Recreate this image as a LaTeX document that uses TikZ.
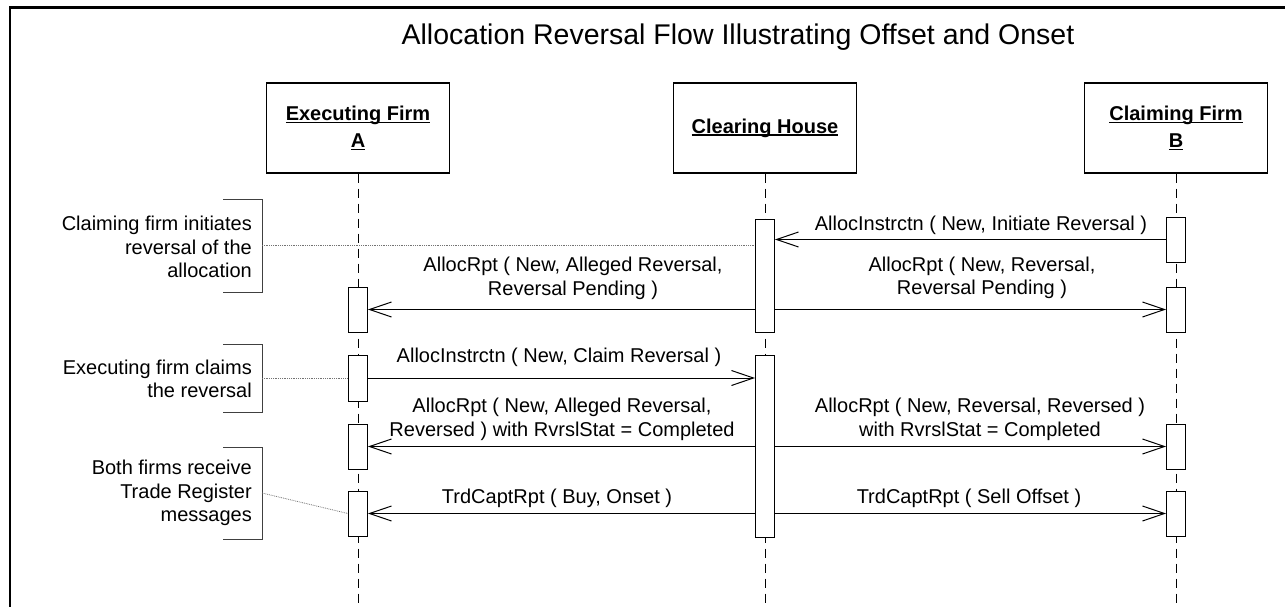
\documentclass[tikz,border=0pt]{standalone}
\usepackage{fontspec}
\setmainfont{Liberation Sans}
\usetikzlibrary{arrows.meta,calc}
\newcommand\ulin[1]{\setbox0\hbox{#1}\rlap{\rule[-2.6pt]{\wd0}{1.3pt}}\box0}
\begin{document}
\begin{tikzpicture}[x=1pt,y=-1pt,
  every node/.style={font=\fontsize{20}{23.5}\selectfont, inner sep=0pt},
  obj/.style={draw, line width=1.1pt, minimum width=183pt, minimum height=90pt, font=\fontsize{20}{26}\selectfont\bfseries, align=center},
  act/.style={draw, fill=white, line width=1pt, minimum width=19pt},
  life/.style={dash pattern=on 9pt off 6pt, line width=0.9pt},
  msg/.style={line width=1pt, -{Straight Barb[length=22pt,width=15pt]}},
  note/.style={densely dotted, line width=0.8pt, black!55},
  brk/.style={line width=1pt, black!75},
  cmt/.style={align=right, anchor=east},
  lbl/.style={align=center}]
\useasboundingbox (0,0) rectangle (1285,607);

% frame
\draw[line width=2.2pt] (10,607) -- (10,7.5) -- (1285,7.5);

% title
\node[anchor=base, font=\fontsize{28.5}{34}\selectfont] (title) at (738,45) {Allocation Reversal Flow Illustrating Offset and Onset};

% objects
\node[obj] (ef) at (358,128) {\ulin{Executing Firm}\\[1pt]\ulin{A}};
\node[obj] (ch) at (765,128) {\ulin{Clearing House}};
\node[obj] (cf) at (1176,128) {\ulin{Claiming Firm}\\[1pt]\ulin{B}};

% lifelines
\coordinate (efEnd) at (358,607);
\coordinate (chEnd) at (765,607);
\coordinate (cfEnd) at (1176,607);
\draw[life] (ef.south) -- (efEnd);
\draw[life] (ch.south) -- (chEnd);
\draw[life] (cf.south) -- (cfEnd);

% activations
\node[act, minimum height=113pt] (cA1) at (765,275.5) {};
\node[act, minimum height=45pt] (bA1) at (1176,239.5) {};
\node[act, minimum height=45pt] (eA1) at (358,309.5) {};
\node[act, minimum height=45pt] (bA2) at (1176,309.5) {};
\node[act, minimum height=46pt] (eA2) at (358,378) {};
\node[act, minimum height=182pt] (cA2) at (765,446) {};
\node[act, minimum height=45pt] (eA3) at (358,446.5) {};
\node[act, minimum height=45pt] (bA3) at (1176,446.5) {};
\node[act, minimum height=45pt] (eA4) at (358,513.5) {};
\node[act, minimum height=45pt] (bA4) at (1176,513.5) {};

% messages
\draw[msg] (bA1.west) -- (cA1.east |- bA1.west);
\draw[msg] (cA1.west |- eA1.east) -- (eA1.east);
\draw[msg] (cA1.east |- bA2.west) -- (bA2.west);
\draw[msg] (eA2.east) -- (cA2.west |- eA2.east);
\draw[msg] (cA2.west |- eA3.east) -- (eA3.east);
\draw[msg] (cA2.east |- bA3.west) -- (bA3.west);
\draw[msg] (cA2.west |- eA4.east) -- (eA4.east);
\draw[msg] (cA2.east |- bA4.west) -- (bA4.west);

% message labels
\node[anchor=base] (m1) at (981,230) {AllocInstrctn ( New, Initiate Reversal )};
\node[lbl] (m2a) at (573,278.3) {AllocRpt ( New, Alleged Reversal,\\Reversal Pending )};
\node[lbl] (m2b) at (982,278) {AllocRpt ( New, Reversal,\\Reversal Pending )};
\node[anchor=base] (m3) at (559,362) {AllocInstrctn ( New, Claim Reversal )};
\node[lbl] (m4a) at (562,419.3) {AllocRpt ( New, Alleged Reversal,\\Reversed ) with RvrslStat = Completed};
\node[lbl] (m4b) at (980,419.3) {AllocRpt ( New, Reversal, Reversed )\\with RvrslStat = Completed};
\node[anchor=base] (m5a) at (557,503) {TrdCaptRpt ( Buy, Onset )};
\node[anchor=base] (m5b) at (969,503) {TrdCaptRpt ( Sell Offset )};

% comments
\node[cmt] (c1) at (252,247) {Claiming firm initiates\\reversal of the\\allocation};
\node[cmt] (c2) at (252,379) {Executing firm claims\\the reversal};
\node[cmt] (c3) at (252,493) {Both firms receive\\Trade Register\\messages};

\draw[brk] (223,199) -- (262,199) -- (262,292) -- (223,292);
\draw[brk] (223,344) -- (262,344) -- (262,412) -- (223,412);
\draw[brk] (223,447) -- (262,447) -- (262,539) -- (223,539);
\coordinate (k1) at (262,245);
\coordinate (k2) at (262,378);
\coordinate (k3) at (262,493);
\draw[note] (k1) -- (cA1.west |- k1);
\draw[note] (k2) -- (eA2.west);
\draw[note] (k3) -- (eA4.west);
\end{tikzpicture}
\end{document}
